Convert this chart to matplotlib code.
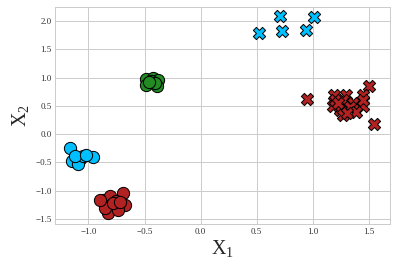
import matplotlib
matplotlib.use("Agg")
import matplotlib.pyplot as plt

# cluster points
blue_o_x = [-1.167, -0.96, -1.078, -1.15, -1.09, -1.05, -1.12, -1.02]
blue_o_y = [-0.25, -0.41, -0.44, -0.47, -0.53, -0.385, -0.385, -0.37]

red_o_x = [-0.69, -0.87, -0.81, -0.795, -0.676, -0.825, -0.75, -0.855, -0.736, -0.9, -0.78, -0.72]
red_o_y = [-1.04, -1.16, -1.10, -1.25, -1.25, -1.40, -1.19, -1.31, -1.34, -1.16, -1.22, -1.20]

green_o_x = [-0.488, -0.426, -0.381, -0.39, -0.488, -0.44, -0.41, -0.46]
green_o_y = [0.975, 0.993, 0.958, 0.85, 0.87, 0.94, 0.90, 0.92]

blue_x_x = [0.708, 1.012, 0.518, 0.726, 0.94]
blue_x_y = [2.09, 2.065, 1.79, 1.82, 1.85]

red_x_x = [0.946, 1.505, 1.547, 1.19, 1.30, 1.45, 1.18, 1.27, 1.36, 1.24, 1.33, 1.45,
           1.27, 1.39, 1.20, 1.45, 1.31, 1.23]
red_x_y = [0.62, 0.85, 0.18, 0.69, 0.70, 0.69, 0.50, 0.60, 0.55, 0.43, 0.48, 0.49,
           0.34, 0.40, 0.60, 0.60, 0.37, 0.55]

plt.style.use('seaborn-v0_8-whitegrid')
plt.rcParams['font.family'] = ['Liberation Serif', 'DejaVu Serif']
plt.rcParams['mathtext.fontset'] = 'custom'
plt.rcParams['mathtext.rm'] = 'Liberation Serif'
plt.rcParams['mathtext.it'] = 'Liberation Serif:italic'

fig = plt.figure(figsize=(5.5, 267 / 72), dpi=72)
ax = fig.add_axes([0.139, 0.161, 0.846, 0.813])

kw = dict(edgecolors='black', linewidths=1.0, s=150, zorder=3)
ax.scatter(blue_o_x, blue_o_y, c='deepskyblue', marker='o', **kw)
ax.scatter(red_o_x, red_o_y, c='firebrick', marker='o', **kw)
ax.scatter(green_o_x, green_o_y, c='forestgreen', marker='o', **kw)
ax.scatter(blue_x_x, blue_x_y, c='deepskyblue', marker='X', **kw)
ax.scatter(red_x_x, red_x_y, c='firebrick', marker='X', **kw)

ax.set_xlim(-1.298, 1.69)
ax.set_ylim(-1.59, 2.25)
ax.set_xticks([-1.0, -0.5, 0.0, 0.5, 1.0, 1.5])
ax.set_yticks([-1.5, -1.0, -0.5, 0.0, 0.5, 1.0, 1.5, 2.0])
ax.tick_params(labelsize=9, colors='#333333')
for s in ax.spines.values():
    s.set_visible(True)
    s.set_color('#cccccc')
    s.set_linewidth(1.0)
ax.grid(True, color='#cccccc', linewidth=1.0)
ax.set_xlabel(r'$\mathrm{X}_1$', fontsize=20, labelpad=2)
ax.set_ylabel(r'$\mathrm{X}_2$', fontsize=20, labelpad=4)

fig.savefig('out.png', dpi=72)
